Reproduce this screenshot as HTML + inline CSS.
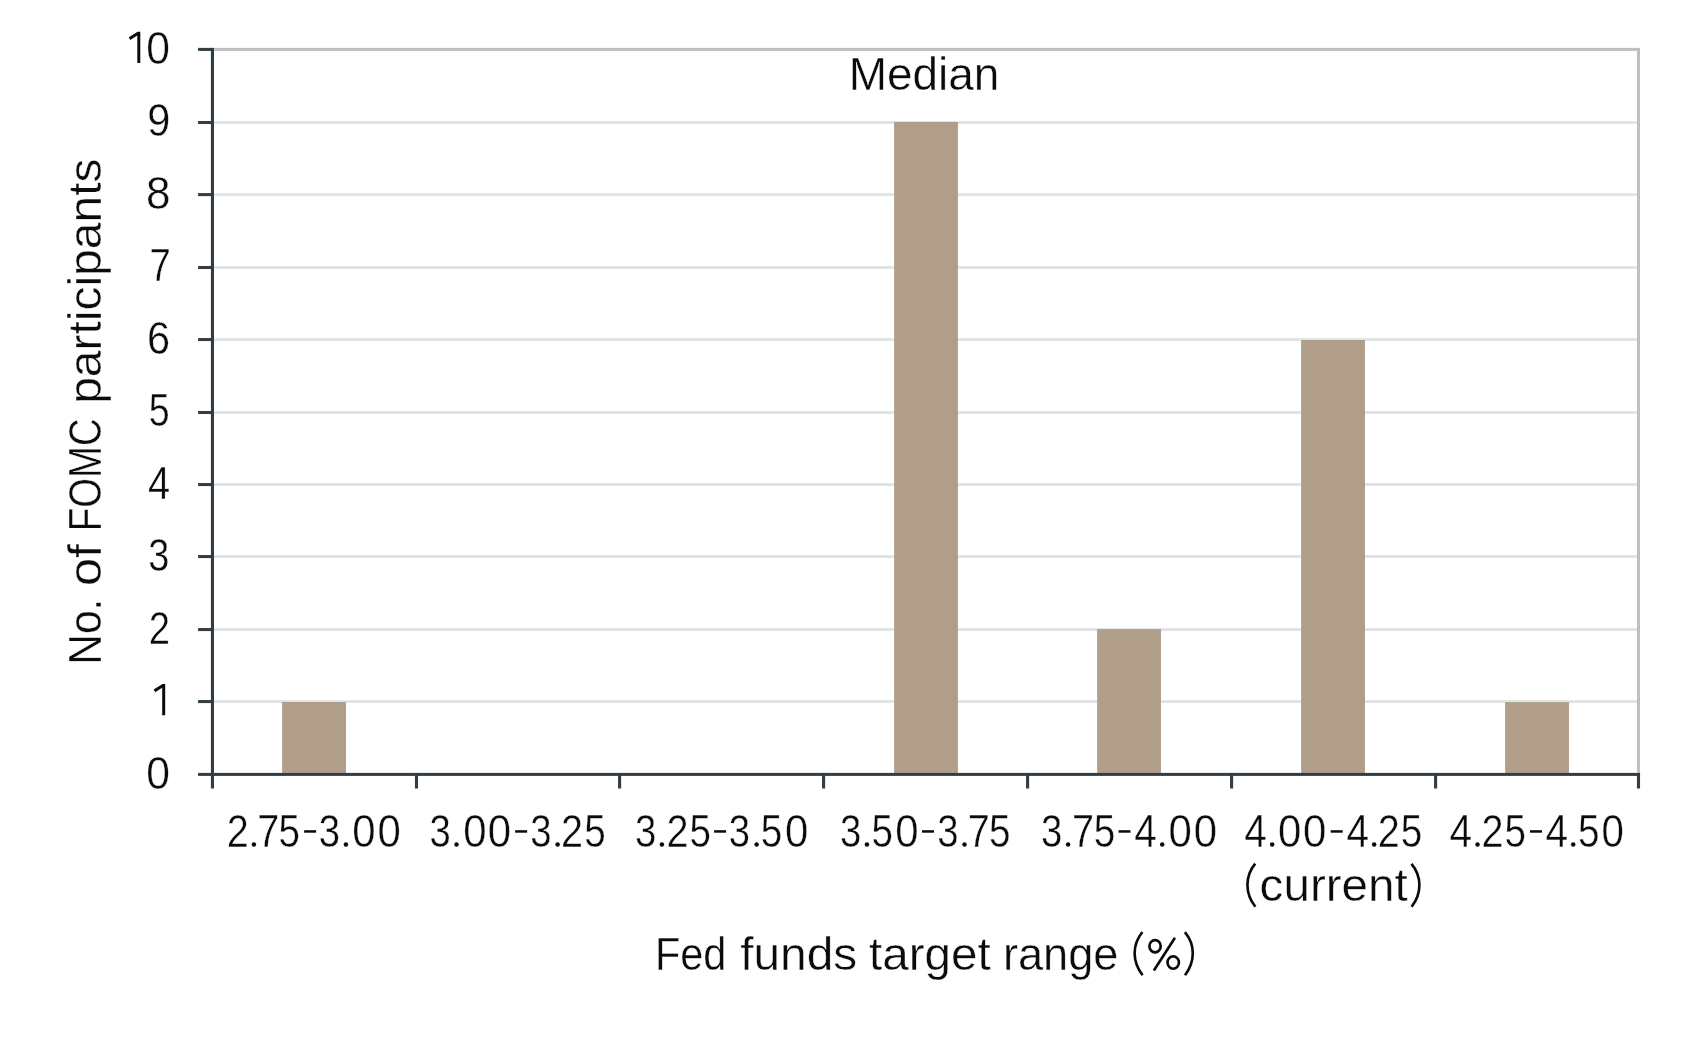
<!DOCTYPE html>
<html><head><meta charset="utf-8"><title>Chart</title>
<style>
html,body{margin:0;padding:0;background:#fff;}
body{width:1689px;height:1039px;overflow:hidden;}
svg{display:block;}
text{font-family:"Liberation Sans",sans-serif;font-size:46.4px;fill:#0b0b0b;stroke:#ffffff;stroke-width:0.4px;font-kerning:none;white-space:pre;}
</style></head><body>
<svg width="1689" height="1039" viewBox="0 0 1689 1039">
<rect x="0" y="0" width="1689" height="1039" fill="#ffffff"/>

<rect x="212.50" y="700.20" width="1426.00" height="2.7" fill="#dde2e4"/>
<rect x="212.50" y="628.20" width="1426.00" height="2.7" fill="#dde2e4"/>
<rect x="212.50" y="555.20" width="1426.00" height="2.7" fill="#dde2e4"/>
<rect x="212.50" y="483.20" width="1426.00" height="2.7" fill="#dde2e4"/>
<rect x="212.50" y="411.15" width="1426.00" height="2.7" fill="#dde2e4"/>
<rect x="212.50" y="338.20" width="1426.00" height="2.7" fill="#dde2e4"/>
<rect x="212.50" y="266.15" width="1426.00" height="2.7" fill="#dde2e4"/>
<rect x="212.50" y="193.25" width="1426.00" height="2.7" fill="#dde2e4"/>
<rect x="212.50" y="121.15" width="1426.00" height="2.7" fill="#dde2e4"/>
<rect x="212.50" y="47.90" width="1427.50" height="3" fill="#bfbfbf"/>
<rect x="1637.00" y="47.90" width="3" height="725.00" fill="#bfbfbf"/>
<rect x="282.10" y="702.00" width="63.87" height="72.40" fill="#b09e8a"/>
<rect x="894.11" y="122.00" width="63.81" height="652.40" fill="#b09e8a"/>
<rect x="1097.11" y="629.10" width="63.86" height="145.30" fill="#b09e8a"/>
<rect x="1301.11" y="340.00" width="63.86" height="434.40" fill="#b09e8a"/>
<rect x="1505.11" y="702.10" width="63.86" height="72.30" fill="#b09e8a"/>
<rect x="210.90" y="47.90" width="3.1" height="740.60" fill="#323c43"/>
<rect x="198.10" y="772.90" width="1441.95" height="3.0" fill="#323c43"/>
<rect x="198.10" y="700.03" width="14" height="3.05" fill="#323c43"/>
<rect x="198.10" y="628.03" width="14" height="3.05" fill="#323c43"/>
<rect x="198.10" y="555.03" width="14" height="3.05" fill="#323c43"/>
<rect x="198.10" y="483.03" width="14" height="3.05" fill="#323c43"/>
<rect x="198.10" y="410.98" width="14" height="3.05" fill="#323c43"/>
<rect x="198.10" y="338.03" width="14" height="3.05" fill="#323c43"/>
<rect x="198.10" y="265.98" width="14" height="3.05" fill="#323c43"/>
<rect x="198.10" y="193.08" width="14" height="3.05" fill="#323c43"/>
<rect x="198.10" y="120.98" width="14" height="3.05" fill="#323c43"/>
<rect x="198.10" y="47.88" width="14" height="3.05" fill="#323c43"/>
<rect x="414.95" y="774.40" width="3.1" height="14.1" fill="#323c43"/>
<rect x="618.05" y="774.40" width="3.1" height="14.1" fill="#323c43"/>
<rect x="822.05" y="774.40" width="3.1" height="14.1" fill="#323c43"/>
<rect x="1026.05" y="774.40" width="3.1" height="14.1" fill="#323c43"/>
<rect x="1230.05" y="774.40" width="3.1" height="14.1" fill="#323c43"/>
<rect x="1434.05" y="774.40" width="3.1" height="14.1" fill="#323c43"/>
<rect x="1636.95" y="774.40" width="3.1" height="14.1" fill="#323c43"/>
<g opacity="0.999">
<text transform="translate(146.20,788.70) scale(0.9183,1)">0</text>
<polygon points="165.20,683.93 162.50,683.93 153.70,689.53 155.20,692.13 162.20,687.83 162.20,715.13 165.20,715.13" fill="#0b0b0b"/>
<text transform="translate(148.66,643.76) scale(0.8246,1)">2</text>
<text transform="translate(148.35,571.29) scale(0.8148,1)">3</text>
<text transform="translate(148.07,498.82) scale(0.8572,1)">4</text>
<text transform="translate(148.68,426.35) scale(0.8102,1)">5</text>
<text transform="translate(146.96,353.88) scale(0.8948,1)">6</text>
<text transform="translate(149.62,281.41) scale(0.8264,1)">7</text>
<text transform="translate(145.94,208.94) scale(0.9498,1)">8</text>
<text transform="translate(147.13,136.47) scale(0.8938,1)">9</text>
<polygon points="140.30,31.70 137.60,31.70 128.80,37.30 130.30,39.90 137.30,35.60 137.30,62.90 140.30,62.90" fill="#0b0b0b"/>
<text transform="translate(146.20,64.00) scale(0.9183,1)">0</text>
<text transform="translate(226.69,847.00) scale(0.8535,1)">2</text>
<circle cx="253.90" cy="844.60" r="2.25" fill="#0b0b0b"/>
<text transform="translate(257.14,847.00) scale(0.8554,1)">7</text>
<text transform="translate(278.49,847.00) scale(0.8334,1)">5</text>
<rect x="304.15" y="830.20" width="12.00" height="2.5" fill="#0b0b0b"/>
<text transform="translate(318.78,847.00) scale(0.8241,1)">3</text>
<circle cx="345.90" cy="844.60" r="2.25" fill="#0b0b0b"/>
<text transform="translate(352.28,847.00) scale(0.9045,1)">0</text>
<text transform="translate(377.38,847.00) scale(0.9045,1)">0</text>
<text transform="translate(429.53,847.00) scale(0.8241,1)">3</text>
<circle cx="456.50" cy="844.60" r="2.25" fill="#0b0b0b"/>
<text transform="translate(463.18,847.00) scale(0.9045,1)">0</text>
<text transform="translate(487.78,847.00) scale(0.9045,1)">0</text>
<rect x="515.15" y="830.20" width="12.00" height="2.5" fill="#0b0b0b"/>
<text transform="translate(530.28,847.00) scale(0.8241,1)">3</text>
<circle cx="557.60" cy="844.60" r="2.25" fill="#0b0b0b"/>
<text transform="translate(560.99,847.00) scale(0.8535,1)">2</text>
<text transform="translate(584.29,847.00) scale(0.8334,1)">5</text>
<text transform="translate(634.88,847.00) scale(0.8241,1)">3</text>
<circle cx="661.90" cy="844.60" r="2.25" fill="#0b0b0b"/>
<text transform="translate(666.49,847.00) scale(0.8535,1)">2</text>
<text transform="translate(689.39,847.00) scale(0.8334,1)">5</text>
<rect x="714.10" y="830.20" width="12.00" height="2.5" fill="#0b0b0b"/>
<text transform="translate(728.78,847.00) scale(0.8241,1)">3</text>
<circle cx="756.65" cy="844.60" r="2.25" fill="#0b0b0b"/>
<text transform="translate(760.69,847.00) scale(0.8334,1)">5</text>
<text transform="translate(785.03,847.00) scale(0.9045,1)">0</text>
<text transform="translate(839.88,847.00) scale(0.8241,1)">3</text>
<circle cx="866.90" cy="844.60" r="2.25" fill="#0b0b0b"/>
<text transform="translate(871.49,847.00) scale(0.8334,1)">5</text>
<text transform="translate(895.18,847.00) scale(0.9045,1)">0</text>
<rect x="922.00" y="830.20" width="12.00" height="2.5" fill="#0b0b0b"/>
<text transform="translate(937.28,847.00) scale(0.8241,1)">3</text>
<circle cx="964.50" cy="844.60" r="2.25" fill="#0b0b0b"/>
<text transform="translate(967.84,847.00) scale(0.8554,1)">7</text>
<text transform="translate(988.99,847.00) scale(0.8334,1)">5</text>
<text transform="translate(1041.08,847.00) scale(0.8241,1)">3</text>
<circle cx="1068.10" cy="844.60" r="2.25" fill="#0b0b0b"/>
<text transform="translate(1072.09,847.00) scale(0.8554,1)">7</text>
<text transform="translate(1093.74,847.00) scale(0.8334,1)">5</text>
<rect x="1118.50" y="830.20" width="12.00" height="2.5" fill="#0b0b0b"/>
<text transform="translate(1134.29,847.00) scale(0.8746,1)">4</text>
<circle cx="1162.20" cy="844.60" r="2.25" fill="#0b0b0b"/>
<text transform="translate(1168.48,847.00) scale(0.9045,1)">0</text>
<text transform="translate(1193.68,847.00) scale(0.9045,1)">0</text>
<text transform="translate(1244.34,847.00) scale(0.8746,1)">4</text>
<circle cx="1272.15" cy="844.60" r="2.25" fill="#0b0b0b"/>
<text transform="translate(1277.93,847.00) scale(0.9045,1)">0</text>
<text transform="translate(1302.88,847.00) scale(0.9045,1)">0</text>
<rect x="1330.70" y="830.20" width="12.00" height="2.5" fill="#0b0b0b"/>
<text transform="translate(1346.39,847.00) scale(0.8746,1)">4</text>
<circle cx="1374.15" cy="844.60" r="2.25" fill="#0b0b0b"/>
<text transform="translate(1377.84,847.00) scale(0.8535,1)">2</text>
<text transform="translate(1400.84,847.00) scale(0.8334,1)">5</text>
<text transform="translate(1449.54,847.00) scale(0.8746,1)">4</text>
<circle cx="1477.50" cy="844.60" r="2.25" fill="#0b0b0b"/>
<text transform="translate(1481.39,847.00) scale(0.8535,1)">2</text>
<text transform="translate(1504.39,847.00) scale(0.8334,1)">5</text>
<rect x="1530.00" y="830.20" width="12.00" height="2.5" fill="#0b0b0b"/>
<text transform="translate(1545.39,847.00) scale(0.8746,1)">4</text>
<circle cx="1573.20" cy="844.60" r="2.25" fill="#0b0b0b"/>
<text transform="translate(1577.89,847.00) scale(0.8334,1)">5</text>
<text transform="translate(1601.50,847.00) scale(0.8677,1)">0</text>
<path d="M1255.20,863.60 C1244.80,876.30 1244.80,893.30 1255.40,906.80" fill="none" stroke="#0b0b0b" stroke-width="2.65"/>
<text transform="translate(1259.62,901.30) scale(1.0261,1)">current</text>
<path d="M1411.50,863.80 C1422.00,876.30 1422.00,893.30 1411.60,906.80" fill="none" stroke="#0b0b0b" stroke-width="2.65"/>
<text transform="translate(654.97,969.70) scale(0.8934,1)">Fed</text>
<text transform="translate(740.17,969.70) scale(1.0318,1)">funds</text>
<text transform="translate(869.02,969.70) scale(1.0264,1)">target</text>
<text transform="translate(1002.96,969.70) scale(0.9732,1)">range</text>
<path d="M1142.40,932.00 C1132.00,944.70 1132.00,961.70 1142.60,975.20" fill="none" stroke="#0b0b0b" stroke-width="2.65"/>
<ellipse cx="1155.05" cy="946.20" rx="5.65" ry="6.1" fill="none" stroke="#0b0b0b" stroke-width="2.65"/>
<ellipse cx="1173.20" cy="962.55" rx="5.7" ry="6.2" fill="none" stroke="#0b0b0b" stroke-width="2.65"/>
<path d="M1153.85,970.55 L1174.95,937.80" fill="none" stroke="#0b0b0b" stroke-width="2.65"/>
<path d="M1184.90,932.20 C1195.40,944.70 1195.40,961.70 1185.00,975.20" fill="none" stroke="#0b0b0b" stroke-width="2.65"/>
<text transform="translate(848.78,89.70) scale(0.9899,1)">Median</text>
<text transform="translate(101.20,661.40) rotate(-90) translate(-3.43,0) scale(0.9175,1)">No.</text>
<text transform="translate(101.20,661.40) rotate(-90) translate(75.42,0) scale(1.0847,1)">of</text>
<text transform="translate(101.20,661.40) rotate(-90) translate(130.14,0) scale(0.8268,1)">FOMC</text>
<text transform="translate(101.20,661.40) rotate(-90) translate(257.55,0) scale(1.0340,1)">participants</text>
</g>
</svg>
</body></html>
